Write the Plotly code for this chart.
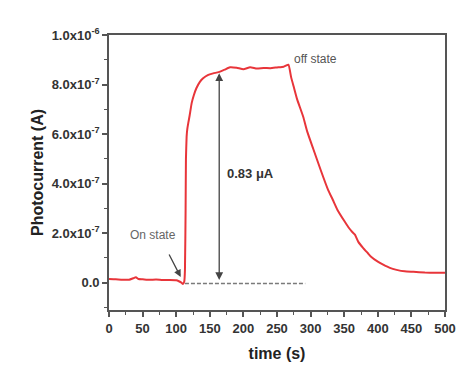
import plotly.graph_objects as go

# Data (time in s, photocurrent in A)
time_s = [0, 10, 20, 30, 36, 40, 44, 50, 60, 70, 80, 90, 100, 104, 108, 110, 112,
          113, 114, 114.5, 115.5, 116.5, 118, 120, 123, 126, 130, 135, 140, 147, 155,
          163, 172, 180, 190, 200, 210, 220, 230, 240, 250, 260, 267,
          271, 275, 280, 289, 295, 304, 315, 326, 333, 340, 350, 356, 362, 366, 371,
          378, 385, 390, 400, 408, 418, 428, 440, 453, 470, 485, 500]
current_e7 = [0.15, 0.14, 0.12, 0.12, 0.18, 0.22, 0.15, 0.14, 0.12, 0.13, 0.11, 0.11, 0.10, 0.06, 0.0, -0.05, 0.05,
              0.5, 3.0, 5.0, 5.9, 6.2, 6.45, 6.75, 7.25, 7.55, 7.85, 8.1, 8.25, 8.38, 8.45,
              8.5, 8.6, 8.7, 8.68, 8.62, 8.7, 8.65, 8.67, 8.66, 8.69, 8.72, 8.8,
              8.3, 7.9, 7.4, 6.7, 6.1, 5.4, 4.55, 3.75, 3.35, 2.94, 2.5, 2.25, 2.05, 1.94, 1.65,
              1.41, 1.2, 1.05, 0.85, 0.73, 0.6, 0.52, 0.46, 0.44, 0.41, 0.40, 0.40]
current = [v * 1e-7 for v in current_e7]

y_tickvals = [0, 2e-7, 4e-7, 6e-7, 8e-7, 1e-6]
y_ticktext = ["0.0", "2.0x10<sup>-7</sup>", "4.0x10<sup>-7</sup>", "6.0x10<sup>-7</sup>",
              "8.0x10<sup>-7</sup>", "1.0x10<sup>-6</sup>"]
x_tickvals = [0, 50, 100, 150, 200, 250, 300, 350, 400, 450, 500]

# Annotation anchors (data coordinates)
baseline_t = [113, 292]
baseline_y = [-0.03e-7, -0.03e-7]
delta_t = 164
delta_top = 8.46e-7
delta_label = "0.83 μA"

axis_col = "#555555"
font_fam = "Liberation Sans, Arial, sans-serif"

fig = go.Figure()
fig.add_trace(go.Scatter(x=baseline_t, y=baseline_y, mode="lines",
                         line=dict(color="#7a7a7a", width=1.6, dash="4px,2px"),
                         hoverinfo="skip", showlegend=False))
fig.add_trace(go.Scatter(x=time_s, y=current, mode="lines",
                         line=dict(color="#e8353a", width=2, shape="spline", smoothing=0.4),
                         showlegend=False))

# double arrow
fig.add_annotation(x=delta_t, y=delta_top, ax=delta_t, ay=0.05e-7,
                   xref="x", yref="y", axref="x", ayref="y",
                   text="", showarrow=True, arrowhead=2, arrowsize=1.2,
                   arrowwidth=1.3, arrowcolor="#444444", arrowside="end+start")
fig.add_annotation(x=211, y=4.42e-7, xref="x", yref="y", text="<b>" + delta_label + "</b>",
                   showarrow=False, font=dict(size=13, color="#333333", family=font_fam))
fig.add_annotation(x=307, y=9.02e-7, xref="x", yref="y", text="off state",
                   showarrow=False, font=dict(size=12, color="#555555", family=font_fam))
fig.add_annotation(x=66, y=1.91e-7, xref="x", yref="y", text="On state",
                   showarrow=False, font=dict(size=12, color="#666666", family=font_fam))
fig.add_annotation(x=106.7, y=0.23e-7, ax=88.3, ay=1.2e-7,
                   xref="x", yref="y", axref="x", ayref="y",
                   text="", showarrow=True, arrowhead=2, arrowsize=1.1,
                   arrowwidth=1.3, arrowcolor="#444444")

fig.update_layout(
    width=474, height=374,
    margin=dict(l=101, r=37, t=27, b=72),
    paper_bgcolor="white", plot_bgcolor="white",
    font=dict(family=font_fam, color="#333333"),
)
fig.update_xaxes(
    range=[0, 500], tickvals=x_tickvals, ticks="outside", ticklen=5,
    tickwidth=1.5, tickcolor=axis_col,
    minor=dict(dtick=25, ticks="outside", ticklen=3, tickcolor=axis_col, tickwidth=1.2, showgrid=False),
    showline=True, linecolor=axis_col, linewidth=1.8, mirror=True,
    showgrid=False, zeroline=False,
    tickfont=dict(size=13, color="#333333", family="Liberation Sans, Arial, sans-serif", weight="bold"),
    title=dict(text="<b>time (s)</b>", font=dict(size=16, color="#222222"), standoff=13),
)
fig.update_yaxes(
    range=[-1.1e-7, 1.0e-6], tickvals=y_tickvals, ticktext=y_ticktext,
    ticks="outside", ticklen=5, tickwidth=1.5, tickcolor=axis_col,
    minor=dict(dtick=1e-7, tick0=0, ticks="outside", ticklen=3, tickcolor=axis_col, tickwidth=1.2, showgrid=False),
    showline=True, linecolor=axis_col, linewidth=1.8, mirror=True,
    showgrid=False, zeroline=False,
    tickfont=dict(size=13, color="#333333", family="Liberation Sans, Arial, sans-serif", weight="bold"),
    title=dict(text="<b>Photocurrent (A)</b>", font=dict(size=16, color="#222222"), standoff=4),
)

fig.write_html("out.html")
